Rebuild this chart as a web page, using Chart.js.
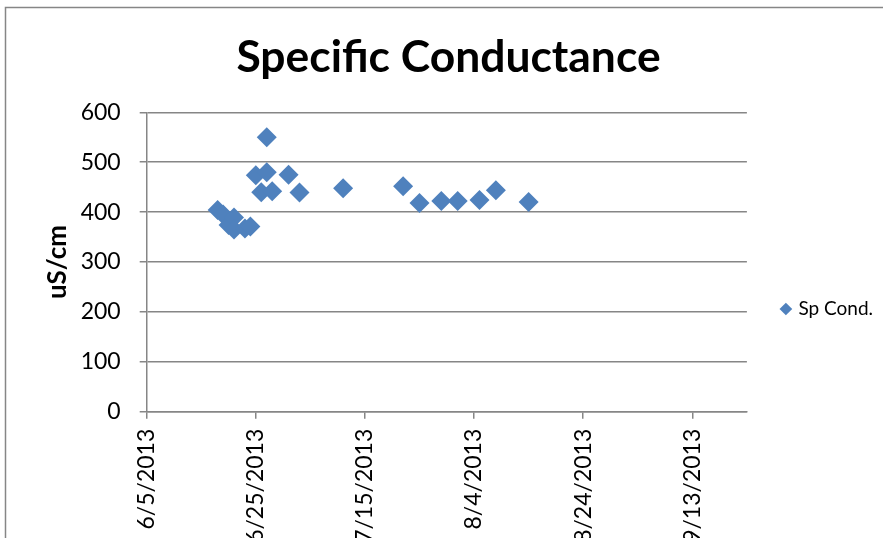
<!DOCTYPE html>
<html>
<head>
<meta charset="utf-8">
<script src="https://cdn.jsdelivr.net/npm/chart.js@4.4.1/dist/chart.umd.min.js"></script>
<style>
  html, body { margin: 0; padding: 0; background: #fff; overflow: hidden; }
  #wrap { width: 883px; height: 538px; overflow: hidden; }
  canvas { display: block; }
</style>
</head>
<body>
<div id="wrap"><canvas id="chart" width="883" height="618"></canvas></div>
<script>
// Sampling dates and specific conductance readings (uS/cm)
const sampleDates = [
  '6/18/2013', '6/19/2013', '6/20/2013', '6/21/2013', '6/21/2013', '6/23/2013', '6/24/2013',
  '6/25/2013', '6/26/2013', '6/27/2013', '6/27/2013', '6/28/2013', '7/1/2013', '7/3/2013',
  '7/11/2013', '7/22/2013', '7/25/2013', '7/29/2013', '8/1/2013', '8/5/2013', '8/8/2013',
  '8/14/2013'
];
const spCond = [
  404, 395, 374, 389, 365, 367, 371,
  474, 440, 480, 550, 442, 475, 439,
  448, 452, 418, 422, 422, 424, 444,
  420
];
const seriesName = 'Sp Cond.';
const axisStartDate = '6/5/2013';
const axisEndDate = '9/23/2013';
const dateTickStepDays = 20;
const yTickValues = [0, 100, 200, 300, 400, 500, 600];

const DAY_MS = 864e5;
function parseDate(s) {
  const [m, d, y] = s.split('/').map(Number);
  return Date.UTC(y, m - 1, d);
}
const originMs = parseDate(axisStartDate);
const dayOffset = s => Math.round((parseDate(s) - originMs) / DAY_MS);
function formatDay(n) {
  const t = new Date(originMs + n * DAY_MS);
  return (t.getUTCMonth() + 1) + '/' + t.getUTCDate() + '/' + t.getUTCFullYear();
}

const points = sampleDates.map((d, i) => ({ x: dayOffset(d), y: spCond[i] }));

const FONT = 'Lato, "Open Sans", "DejaVu Sans", sans-serif';
const GRID = '#868686';

// Outer chart frame, running off the visible right and bottom edges
const frame = {
  id: 'frame',
  beforeDraw(chart) {
    const c = chart.ctx;
    c.save();
    c.fillStyle = '#fff';
    c.fillRect(0, 0, chart.width, chart.height);
    c.strokeStyle = GRID;
    c.lineWidth = 1.5;
    c.strokeRect(5.5, 7.5, chart.width + 20, chart.height + 20);
    c.restore();
  }
};

new Chart(document.getElementById('chart'), {
  type: 'scatter',
  data: {
    datasets: [{
      label: seriesName,
      data: points,
      pointStyle: 'rectRot',
      pointRadius: 10,
      pointHoverRadius: 10,
      pointBackgroundColor: '#4F81BD',
      pointBorderColor: '#4F81BD',
      pointBorderWidth: 0,
      backgroundColor: '#4F81BD',
      borderColor: '#4F81BD',
      showLine: false
    }]
  },
  options: {
    responsive: false,
    animation: false,
    devicePixelRatio: 1,
    layout: { padding: { left: 14, right: 0, top: 0, bottom: 0 } },
    plugins: {
      title: {
        display: true,
        text: 'Specific Conductance',
        color: '#000',
        font: { family: FONT, size: 44.4, weight: 'bold' },
        padding: { top: 31, bottom: 28 }
      },
      legend: {
        position: 'right',
        labels: {
          usePointStyle: true,
          pointStyle: 'rectRot',
          boxWidth: 6,
          boxHeight: 9,
          padding: 36,
          color: '#000',
          font: { family: FONT, size: 19 }
        }
      },
      tooltip: { enabled: false }
    },
    scales: {
      x: {
        type: 'linear',
        min: dayOffset(axisStartDate),
        max: dayOffset(axisEndDate),
        afterFit: s => { s.height = 618 - 411.7; },
        afterBuildTicks: s => {
          const t = [];
          for (let v = s.min; v <= s.max; v += dateTickStepDays) t.push({ value: v });
          s.ticks = t;
        },
        ticks: {
          autoSkip: false,
          minRotation: 90,
          maxRotation: 90,
          padding: 10,
          color: '#000',
          font: { family: FONT, size: 23 },
          callback: v => formatDay(v)
        },
        grid: { drawOnChartArea: false, drawTicks: true, tickLength: 7, color: GRID, lineWidth: 1.5 },
        border: { display: true, color: GRID, width: 1.5 }
      },
      y: {
        min: yTickValues[0],
        max: yTickValues[yTickValues.length - 1],
        afterFit: s => { s.width = 132.7; },
        afterBuildTicks: s => { s.ticks = yTickValues.map(v => ({ value: v })); },
        ticks: {
          padding: 19,
          color: '#000',
          font: { family: FONT, size: 23 }
        },
        title: {
          display: true,
          text: 'uS/cm',
          color: '#000',
          font: { family: FONT, size: 26, weight: 'bold' },
          padding: { top: 28, bottom: 0 }
        },
        grid: { color: GRID, lineWidth: 1.5, tickLength: 7 },
        border: { display: true, color: GRID, width: 1.5 }
      }
    }
  },
  plugins: [frame]
});
</script>
</body>
</html>
